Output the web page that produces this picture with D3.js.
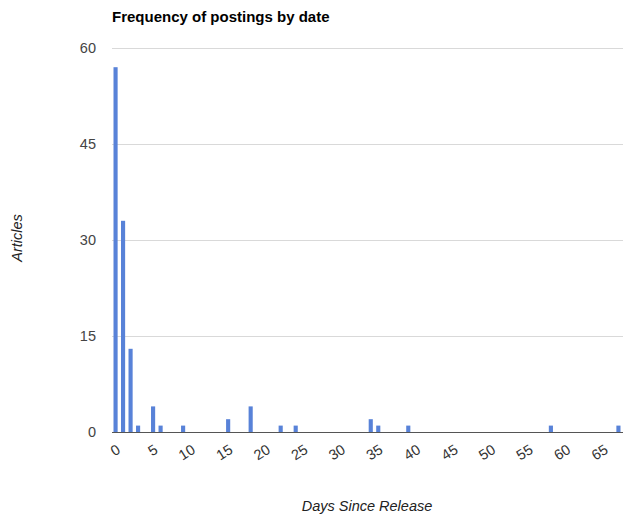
<!DOCTYPE html>
<html>
<head>
<meta charset="utf-8">
<script src="https://cdn.jsdelivr.net/npm/d3@7"></script>
<style>
  body { margin: 0; background: #fff; }
  svg { font-family: "Liberation Sans", Arial, sans-serif; }
</style>
</head>
<body>
<div id="chart"></div>
<script>
// days since release that had postings, and article counts
const days = [0, 1, 2, 3, 5, 6, 9, 15, 18, 22, 24, 34, 35, 39, 58, 67];
const articles = [57, 33, 13, 1, 4, 1, 1, 2, 4, 1, 1, 2, 1, 1, 1, 1];
const yTicks = [0, 15, 30, 45, 60];
const xTicks = [0, 5, 10, 15, 20, 25, 30, 35, 40, 45, 50, 55, 60, 65];

const width = 623, height = 515;
const margin = {top: 48, right: 1, bottom: 83, left: 112};

const svg = d3.select("#chart").append("svg")
    .attr("width", width)
    .attr("height", height);

// one band per day, 0..67
const x = d3.scaleBand()
    .domain(d3.range(0, 68))
    .range([margin.left, width - margin.right])
    .paddingInner(0.45)
    .paddingOuter(0.2);

const y = d3.scaleLinear()
    .domain([0, 60])
    .range([height - margin.bottom, margin.top]);

// gridlines
svg.append("g")
    .selectAll("line")
    .data(yTicks.filter(d => d > 0))
    .join("line")
    .attr("x1", margin.left)
    .attr("x2", width)
    .attr("y1", d => y(d) + 0.5)
    .attr("y2", d => y(d) + 0.5)
    .attr("stroke", "#d9d9d9");

// y labels
svg.append("g")
    .selectAll("text")
    .data(yTicks)
    .join("text")
    .attr("x", 96)
    .attr("y", d => y(d))
    .attr("dy", "0.36em")
    .attr("text-anchor", "end")
    .attr("font-size", 14.5)
    .attr("fill", "#444")
    .text(d => d);

// bars
const data = days.map((d, i) => ({day: d, n: articles[i]}));
svg.append("g")
    .selectAll("rect")
    .data(data)
    .join("rect")
    .attr("x", d => x(d.day))
    .attr("width", x.bandwidth())
    .attr("y", d => y(d.n))
    .attr("height", d => y(0) - y(d.n))
    .attr("fill", "#5882d8");

// baseline
svg.append("line")
    .attr("x1", margin.left)
    .attr("x2", width)
    .attr("y1", y(0) + 0.5)
    .attr("y2", y(0) + 0.5)
    .attr("stroke", "#555");

// slanted x labels
svg.append("g")
    .selectAll("text")
    .data(xTicks)
    .join("text")
    .attr("transform", d => `translate(${x(d) + x.bandwidth() / 2 + 3},${y(0) + 16}) rotate(-32)`)
    .attr("text-anchor", "end")
    .attr("dy", "0.35em")
    .attr("font-size", 14.5)
    .attr("fill", "#333")
    .text(d => d);

// title
svg.append("text")
    .attr("x", 112)
    .attr("y", 22)
    .attr("font-size", 15)
    .attr("font-weight", "bold")
    .attr("fill", "#000")
    .text("Frequency of postings by date");

// axis titles
svg.append("text")
    .attr("transform", "translate(22,238) rotate(-90)")
    .attr("text-anchor", "middle")
    .attr("font-size", 14.5)
    .attr("font-style", "italic")
    .attr("fill", "#222")
    .text("Articles");

svg.append("text")
    .attr("x", 367)
    .attr("y", 511)
    .attr("text-anchor", "middle")
    .attr("font-size", 14.5)
    .attr("font-style", "italic")
    .attr("fill", "#222")
    .text("Days Since Release");
</script>
</body>
</html>
